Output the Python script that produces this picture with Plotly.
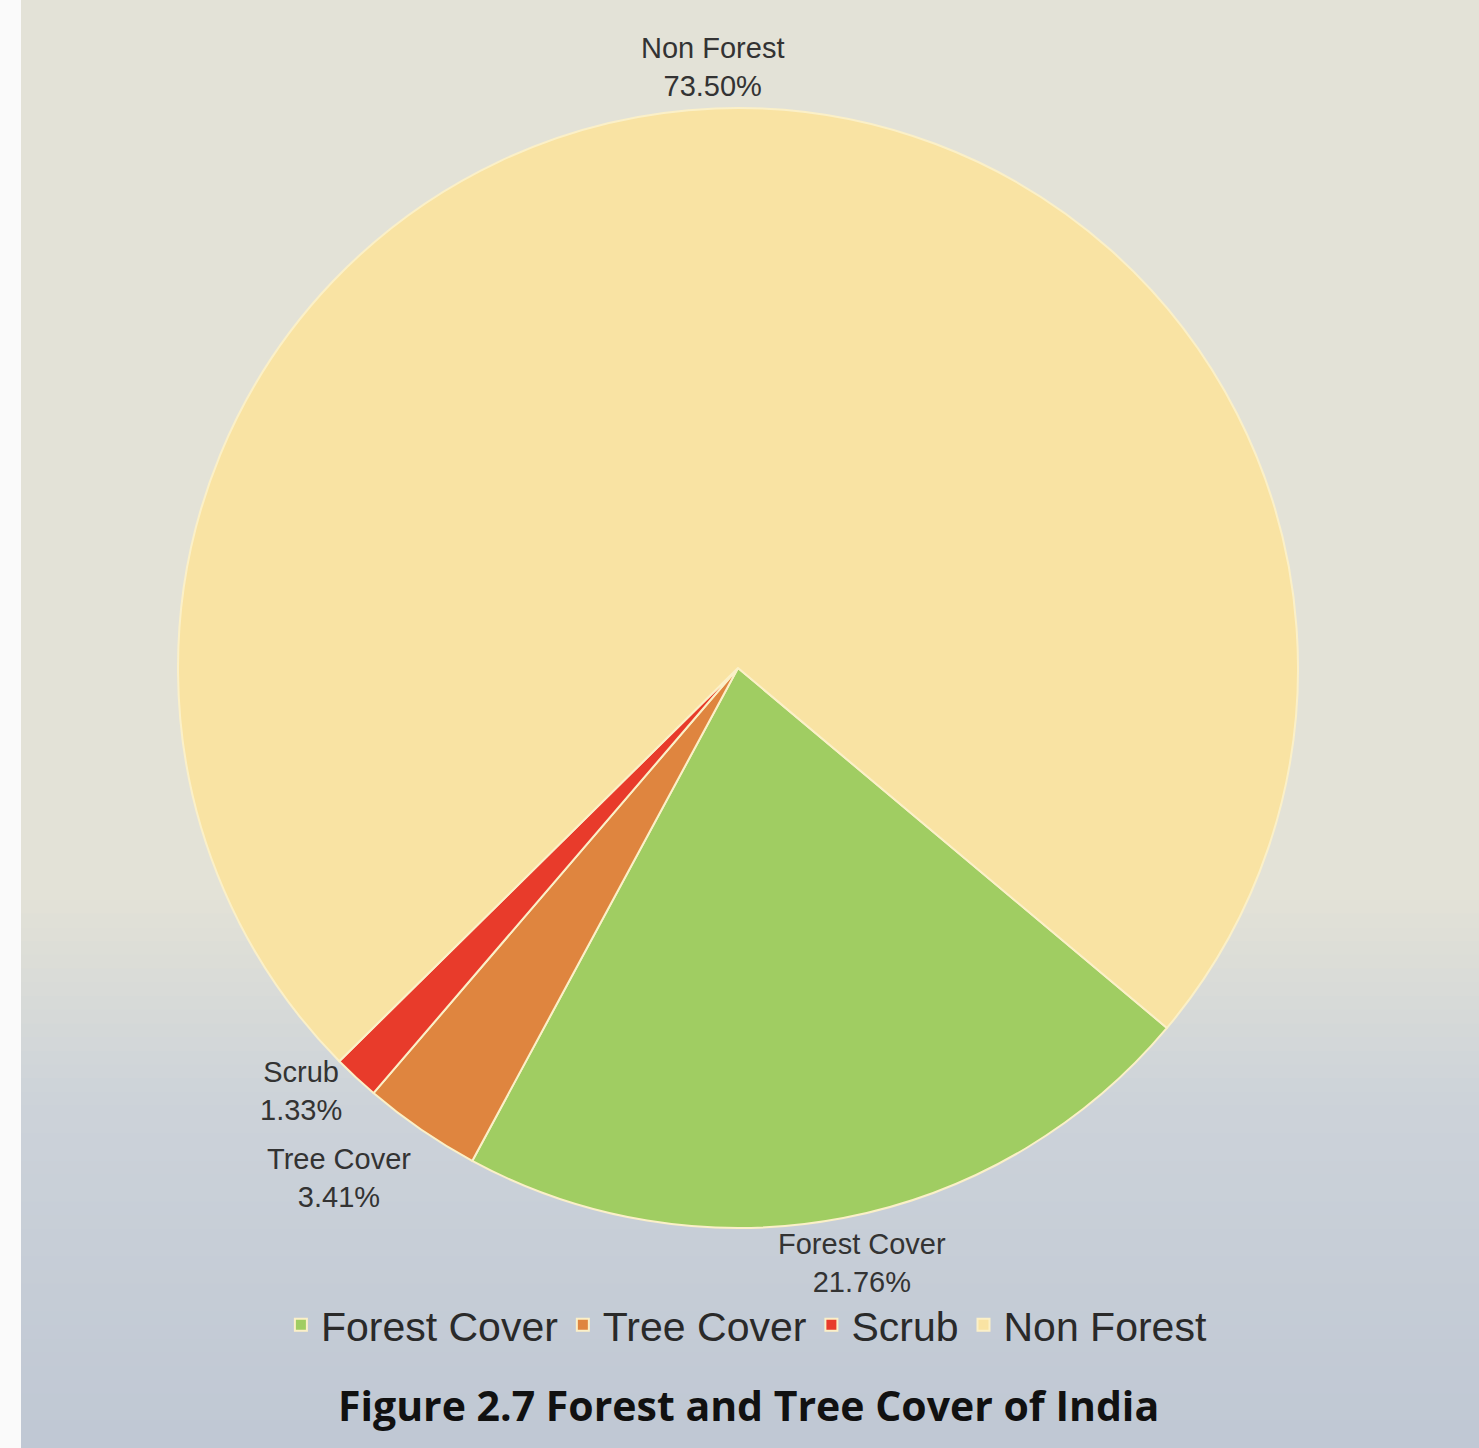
import math
import plotly.graph_objects as go

categories = ["Forest Cover", "Tree Cover", "Scrub", "Non Forest"]
shares = [21.76, 3.41, 1.33, 73.50]
colors = ["#A0CD62", "#DF853F", "#E83B2B", "#F9E3A3"]

W, H = 1479, 1448
CX, CY, R = 738, 668, 560          # pie centre / radius in pixels
ROT = 130                          # start angle, degrees clockwise from 12 o'clock
label_pad = [8, 14, 18, 4]         # radial gap between pie edge and label (style)

fig = go.Figure()
fig.add_trace(go.Pie(
    labels=categories,
    values=shares,
    sort=False,
    direction="clockwise",
    rotation=ROT,
    marker=dict(colors=colors, line=dict(color="#FBF0C8", width=2)),
    textinfo="none",
    hoverinfo="label+percent",
    domain=dict(x=[(CX - R) / W, (CX + R) / W], y=[1 - (CY + R) / H, 1 - (CY - R) / H]),
))

# outside labels placed at each slice's mid angle
annotations = []
total = sum(shares)
cum = 0.0
lab_font = dict(family="Liberation Sans, Arial, sans-serif", size=29, color="#333333")
for name, v, pad in zip(categories, shares, label_pad):
    mid = ROT + 360 * (cum + v / 2) / total
    cum += v
    s, c = math.sin(math.radians(mid)), math.cos(math.radians(mid))
    px = CX + (R + pad) * s
    py = CY - (R + pad) * c
    xa = "center" if abs(s) < 0.3 else ("left" if s > 0 else "right")
    ya = "middle" if abs(c) < 0.75 else ("bottom" if c > 0 else "top")
    xshift = s * 0.26 * lab_font["size"] * len(name) if xa == "center" else 0
    annotations.append(dict(text="%s<br>%.2f%%" % (name, 100 * v / total),
                            xref="paper", yref="paper", x=px / W, y=1 - py / H,
                            xanchor=xa, yanchor=ya, align="center", showarrow=False,
                            xshift=xshift, font=lab_font))

annotations.append(dict(text="<b>Figure 2.7 Forest and Tree Cover of India</b>",
                        xref="paper", yref="paper", x=748 / W, y=1 - 1405 / H,
                        xanchor="center", yanchor="middle", showarrow=False,
                        font=dict(family="Open Sans, Noto Sans, sans-serif", size=41, color="#111111")))

# background: beige top fading into bluish-grey cloudy bottom
shapes = []
top = (227, 226, 215)
mid_c = (205, 211, 218)
bot = (192, 200, 212)
n = 40
y_start, y_mid = 900, 1100
for i in range(n):
    y0 = y_start + (H - y_start) * i / n
    y1 = y_start + (H - y_start) * (i + 1) / n
    yc = (y0 + y1) / 2
    if yc < y_mid:
        t = (yc - y_start) / (y_mid - y_start)
        col = tuple(int(top[k] + (mid_c[k] - top[k]) * t) for k in range(3))
    else:
        t = (yc - y_mid) / (H - y_mid)
        col = tuple(int(mid_c[k] + (bot[k] - mid_c[k]) * t) for k in range(3))
    shapes.append(dict(type="rect", xref="paper", yref="paper",
                       x0=0, x1=1, y0=1 - y1 / H - 0.001, y1=1 - y0 / H,
                       fillcolor="rgb(%d,%d,%d)" % col, line=dict(width=0), layer="below"))
shapes.append(dict(type="rect", xref="paper", yref="paper", x0=0, x1=21 / W, y0=0, y1=1,
                   fillcolor="#FAFAFA", line=dict(width=0), layer="below"))

fig.update_layout(
    width=W, height=H,
    margin=dict(l=0, r=0, t=0, b=0),
    paper_bgcolor="rgb(227,226,215)",
    plot_bgcolor="rgba(0,0,0,0)",
    shapes=shapes,
    annotations=annotations,
    showlegend=True,
    legend=dict(orientation="h", x=0.505, xanchor="center", y=1 - 1325 / H, yanchor="middle",
                font=dict(family="Liberation Sans, Arial, sans-serif", size=41, color="#2a2a2a"),
                bgcolor="rgba(0,0,0,0)", itemwidth=30, traceorder="normal"),
)

fig.write_html("out.html")
